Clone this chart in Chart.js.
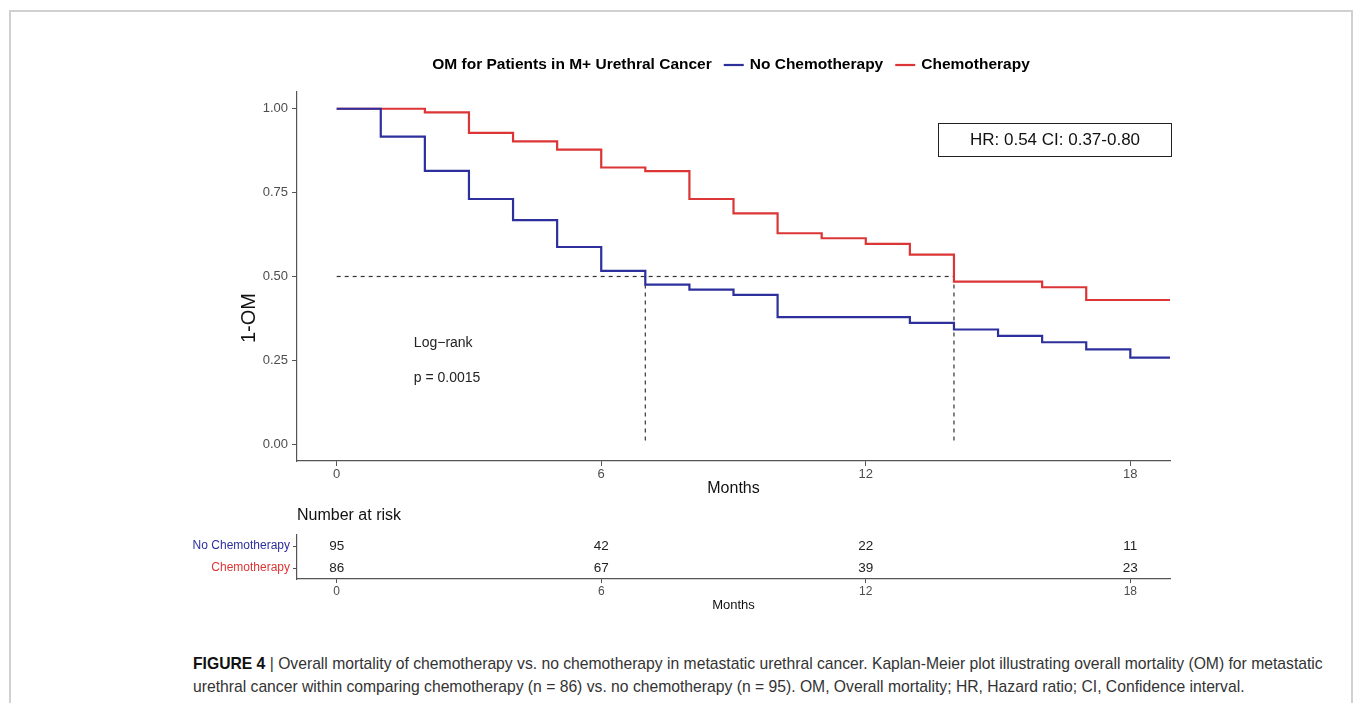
<!DOCTYPE html>
<html>
<head>
<meta charset="utf-8">
<script src="https://cdn.jsdelivr.net/npm/chart.js@4.4.0/dist/chart.umd.min.js"></script>
<style>
  body { margin: 0; background: #fff; font-family: "Liberation Sans", Arial, sans-serif; }
  #frame { position: absolute; left: 9px; top: 10px; width: 1344px; height: 720px; border: 2px solid #d0d0d0; box-sizing: border-box; }
  #kmChart { position: absolute; left: 180px; top: 40px; }
  #riskChart { position: absolute; left: 180px; top: 500px; }
  #hrBox { position: absolute; left: 938px; top: 123px; width: 234px; height: 34px; box-sizing: border-box;
           border: 1px solid #222; font-size: 17px; color: #111; text-align: center; line-height: 32px; }
  #caption { position: absolute; left: 193px; top: 652px; font-size: 15.7px; color: #333; line-height: 23px; white-space: nowrap; }
  #caption b { color: #111; }
</style>
</head>
<body>
<div id="frame"></div>
<canvas id="kmChart" width="1010" height="470"></canvas>
<canvas id="riskChart" width="1010" height="120"></canvas>
<div id="hrBox">HR: 0.54 CI: 0.37-0.80</div>
<div id="caption"><b>FIGURE 4</b> | Overall mortality of chemotherapy vs. no chemotherapy in metastatic urethral cancer. Kaplan-Meier plot illustrating overall mortality (OM) for metastatic<br>urethral cancer within comparing chemotherapy (n = 86) vs. no chemotherapy (n = 95). OM, Overall mortality; HR, Hazard ratio; CI, Confidence interval.</div>

<script>
// survival curves (1-OM), months
const noChemoMonths = [0, 1, 2, 3, 4, 5, 6, 7, 8, 9, 10, 13, 14, 15, 16, 17, 18, 18.9];
const noChemoSurv = [1.0, 0.917, 0.815, 0.731, 0.668, 0.588, 0.517, 0.476, 0.461, 0.445, 0.379, 0.362, 0.342, 0.323, 0.304, 0.283, 0.258, 0.258];

const chemoMonths = [0, 2, 3, 4, 5, 6, 7, 8, 9, 10, 11, 12, 13, 14, 16, 17, 18.9];
const chemoSurv = [1.0, 0.989, 0.928, 0.903, 0.878, 0.825, 0.814, 0.731, 0.688, 0.629, 0.614, 0.597, 0.565, 0.485, 0.468, 0.430, 0.430];

const medianMonths = [7, 14];

const monthTicks = [0, 6, 12, 18];
const survTicks = [0, 0.25, 0.5, 0.75, 1.0];

// number at risk table
const riskGroups = ['No Chemotherapy', 'Chemotherapy'];
const riskMonths = [0, 6, 12, 18];
const noChemoRisk = [95, 42, 22, 11];
const chemoRisk = [86, 67, 39, 23];

const BLUE = '#2c2f9c';
const RED = '#dc3535';
const AXIS = '#555';
const FONT = '"Liberation Sans", Arial, sans-serif';

function toPoints(xs, ys) {
    return xs.map((x, i) => ({ x: x, y: ys[i] }));
}

// dashed median guide lines
const medianSets = [{
    data: [{ x: 0, y: 0.5 }, { x: Math.max(...medianMonths), y: 0.5 }]
}].concat(medianMonths.map(m => ({ data: [{ x: m, y: 0.5 }, { x: m, y: 0 }] })))
  .map(d => Object.assign(d, {
      borderColor: '#333', borderWidth: 1.2, borderDash: [4, 4],
      pointRadius: 0, fill: false
  }));

// legend line + log-rank text + y title
const kmDecor = {
    id: 'kmDecor',
    afterDraw(chart) {
        const ctx = chart.ctx;
        const xs = chart.scales.x, ys = chart.scales.y;
        ctx.save();

        // legend (inline title)
        ctx.font = 'bold 15.5px ' + FONT;
        ctx.textBaseline = 'middle';
        ctx.textAlign = 'left';
        const title = 'OM for Patients in M+ Urethral Cancer';
        const items = [['No Chemotherapy', BLUE], ['Chemotherapy', RED]];
        let total = ctx.measureText(title).width;
        items.forEach(it => { total += 12 + 20 + 6 + ctx.measureText(it[0]).width; });
        let x = 551 - total / 2;
        const y = 25;
        ctx.fillStyle = '#000';
        ctx.fillText(title, x, y);
        x += ctx.measureText(title).width;
        items.forEach(it => {
            x += 12;
            ctx.strokeStyle = it[1];
            ctx.lineWidth = 2.2;
            ctx.beginPath();
            ctx.moveTo(x, y);
            ctx.lineTo(x + 20, y);
            ctx.stroke();
            x += 26;
            ctx.fillText(it[0], x, y);
            x += ctx.measureText(it[0]).width;
        });

        // log-rank annotation
        ctx.font = '14px ' + FONT;
        ctx.fillStyle = '#222';
        ctx.fillText('Log\u2212rank', xs.getPixelForValue(1.75), ys.getPixelForValue(0.30));
        ctx.fillText('p = 0.0015', xs.getPixelForValue(1.75), ys.getPixelForValue(0.196));

        // y axis title
        ctx.translate(69, 278);
        ctx.rotate(-Math.PI / 2);
        ctx.textAlign = 'center';
        ctx.font = '20px ' + FONT;
        ctx.fillStyle = '#111';
        ctx.fillText('1-OM', 0, 0);
        ctx.restore();
    }
};

const kmChart = new Chart(document.getElementById('kmChart'), {
    type: 'line',
    data: {
        datasets: [{
            label: 'No Chemotherapy',
            data: toPoints(noChemoMonths, noChemoSurv),
            borderColor: BLUE,
            borderWidth: 2.2,
            stepped: 'before',
            pointRadius: 0,
            fill: false
        }, {
            label: 'Chemotherapy',
            data: toPoints(chemoMonths, chemoSurv),
            borderColor: RED,
            borderWidth: 2.2,
            stepped: 'before',
            pointRadius: 0,
            fill: false
        }].concat(medianSets)
    },
    options: {
        responsive: false,
        animation: false,
        layout: { padding: { top: 52, right: 20, left: 0, bottom: 0 } },
        plugins: { legend: { display: false }, tooltip: { enabled: false } },
        scales: {
            x: {
                type: 'linear',
                min: -0.9,
                max: 18.9,
                afterBuildTicks: s => { s.ticks = monthTicks.map(v => ({ value: v })); },
                afterFit: s => { s.height = 49; },
                ticks: { font: { family: FONT, size: 13 }, color: '#4d4d4d', padding: 1 },
                grid: { display: true, drawOnChartArea: false, tickLength: 5, color: AXIS },
                border: { display: true, color: AXIS, width: 1.2 },
                title: { display: true, text: 'Months', font: { family: FONT, size: 16 }, color: '#111', padding: { top: 0, bottom: 12 } }
            },
            y: {
                type: 'linear',
                min: -0.05,
                max: 1.05,
                afterBuildTicks: s => { s.ticks = survTicks.map(v => ({ value: v })); },
                afterFit: s => { s.width = 117; },
                ticks: { font: { family: FONT, size: 13 }, color: '#4d4d4d', padding: 4, callback: v => v.toFixed(2) },
                grid: { display: true, drawOnChartArea: false, tickLength: 5, color: AXIS },
                border: { display: true, color: AXIS, width: 1.2 }
            }
        }
    },
    plugins: [kmDecor]
});

// risk table numbers drawn at the dataset points
const riskDecor = {
    id: 'riskDecor',
    afterDatasetsDraw(chart) {
        const ctx = chart.ctx;
        ctx.save();
        ctx.font = '13.5px ' + FONT;
        ctx.fillStyle = '#222';
        ctx.textAlign = 'center';
        ctx.textBaseline = 'middle';
        chart.data.datasets.forEach((ds, i) => {
            chart.getDatasetMeta(i).data.forEach((pt, j) => {
                ctx.fillText(String(ds.data[j].n), pt.x, pt.y);
            });
        });
        ctx.font = '16px ' + FONT;
        ctx.fillStyle = '#111';
        ctx.textAlign = 'left';
        ctx.fillText('Number at risk', chart.chartArea.left, 16);
        ctx.restore();
    }
};

const riskChart = new Chart(document.getElementById('riskChart'), {
    type: 'scatter',
    data: {
        datasets: [
            { label: riskGroups[0], data: riskMonths.map((m, i) => ({ x: m, y: riskGroups[0], n: noChemoRisk[i] })), pointRadius: 0 },
            { label: riskGroups[1], data: riskMonths.map((m, i) => ({ x: m, y: riskGroups[1], n: chemoRisk[i] })), pointRadius: 0 }
        ]
    },
    options: {
        responsive: false,
        animation: false,
        layout: { padding: { top: 35, right: 20, left: 0, bottom: 0 } },
        plugins: { legend: { display: false }, tooltip: { enabled: false } },
        scales: {
            x: {
                type: 'linear',
                min: -0.9,
                max: 18.9,
                afterBuildTicks: s => { s.ticks = monthTicks.map(v => ({ value: v })); },
                afterFit: s => { s.height = 41; },
                ticks: { font: { family: FONT, size: 12 }, color: '#4d4d4d', padding: 1 },
                grid: { display: true, drawOnChartArea: false, tickLength: 4, color: AXIS },
                border: { display: true, color: AXIS, width: 1.2 },
                title: { display: true, text: 'Months', font: { family: FONT, size: 13 }, color: '#111', padding: { top: 0, bottom: 7 } }
            },
            y: {
                type: 'category',
                labels: riskGroups,
                offset: true,
                afterFit: s => { s.width = 117; },
                ticks: {
                    font: { family: FONT, size: 12 },
                    color: c => (c.index === 0 ? BLUE : RED),
                    padding: 3
                },
                grid: { display: true, drawOnChartArea: false, tickLength: 4, color: AXIS },
                border: { display: true, color: AXIS, width: 1.2 }
            }
        }
    },
    plugins: [riskDecor]
});
</script>
</body>
</html>
